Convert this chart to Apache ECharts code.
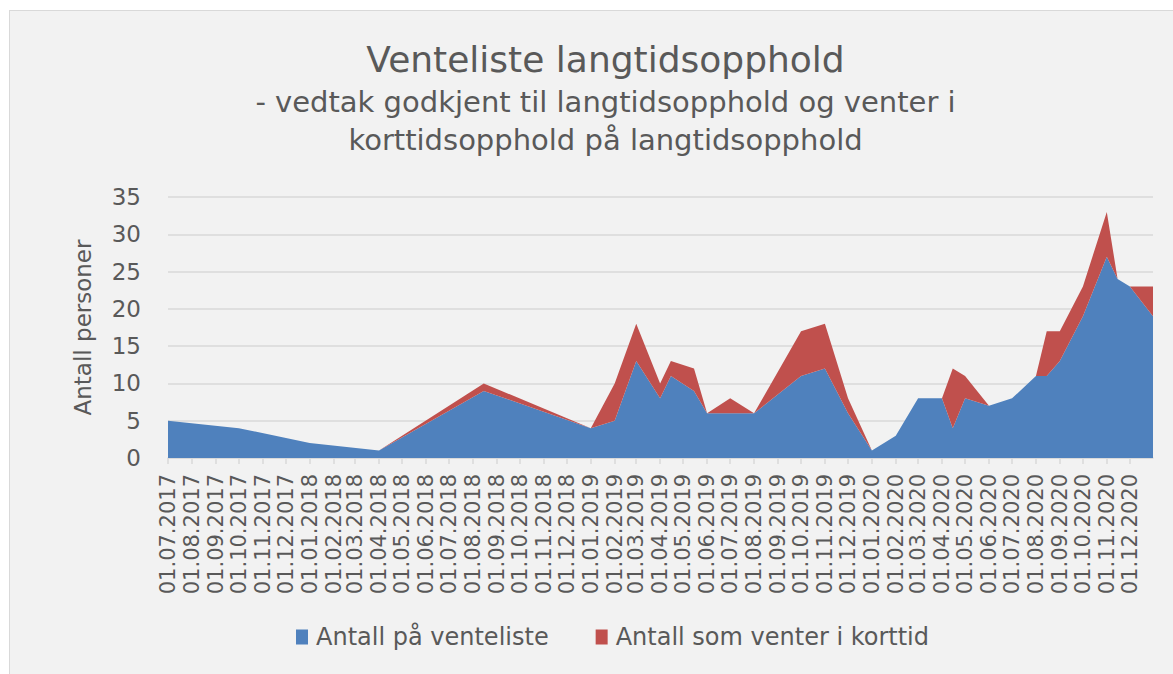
<!DOCTYPE html>
<html>
<head>
<meta charset="utf-8">
<title>Venteliste langtidsopphold</title>
<script src="https://cdn.jsdelivr.net/npm/echarts@6/dist/echarts.min.js"></script>
<style>
  html, body { margin: 0; padding: 0; background: #ffffff; overflow: hidden; }
  #main {
    position: absolute;
    left: 9px;
    top: 10px;
    width: 1192px;
    height: 664px;
    background: #f2f2f2;
    border-top: 1px solid #d9d9d9;
    border-left: 1px solid #d9d9d9;
    box-sizing: border-box;
  }
</style>
</head>
<body>
<div id="main"></div>
<script>
// datoer for registreringene (dd.mm.yyyy lest av figuren)
var datoer = [
  '01.07.2017', '01.10.2017', '01.01.2018', '01.04.2018', '15.08.2018',
  '01.01.2019', '01.02.2019', '01.03.2019', '01.04.2019', '15.04.2019',
  '15.05.2019', '01.06.2019', '01.07.2019', '01.08.2019', '01.10.2019',
  '01.11.2019', '01.12.2019', '01.01.2020', '01.02.2020', '01.03.2020',
  '01.04.2020', '15.04.2020', '01.05.2020', '01.06.2020', '01.07.2020',
  '01.08.2020', '15.08.2020', '01.09.2020', '01.10.2020', '01.11.2020',
  '15.11.2020', '01.12.2020', '31.12.2020'
]
var venteliste = [
  5, 4, 2, 1, 9,
  4, 5, 13, 8, 11,
  9, 6, 6, 6, 11,
  12, 6, 1, 3, 8,
  8, 4, 8, 7, 8,
  11, 11, 13, 19, 27,
  24, 23, 19
]
var korttid = [
  0, 0, 0, 0, 1,
  0, 5, 5, 2, 2,
  3, 0, 2, 0, 6,
  6, 2, 0, 0, 0,
  0, 8, 3, 0, 0,
  0, 6, 4, 4, 6,
  0, 0, 4
]
var serieNavn = ['Antall på venteliste', 'Antall som venter i korttid']
var yTicks = [0, 35, 5] // min, max, steg

// daglig kategoriakse fra første til siste dato
function tilDato(s) {
  var p = s.split('.')
  return new Date(Date.UTC(+p[2], +p[1] - 1, +p[0]))
}
function tilTekst(d) {
  var dd = ('0' + d.getUTCDate()).slice(-2)
  var mm = ('0' + (d.getUTCMonth() + 1)).slice(-2)
  return dd + '.' + mm + '.' + d.getUTCFullYear()
}
var dager = []
var start = tilDato(datoer[0])
var slutt = tilDato(datoer[datoer.length - 1])
for (var t = start.getTime(); t <= slutt.getTime(); t += 86400000) {
  dager.push(tilTekst(new Date(t)))
}
function forsteIMnd(index, value) {
  return value.slice(0, 2) === '01'
}

var font = 'DejaVu Sans'
var grey = '#595959'

var chart = echarts.init(document.getElementById('main'), null, { renderer: 'svg' })
var option = {
  animation: false,
  textStyle: { fontFamily: font, color: grey },
  title: [
    {
      text: 'Venteliste langtidsopphold',
      left: 'center',
      top: 28,
      padding: 0,
      textStyle: { fontSize: 36, lineHeight: 40, fontWeight: 'normal', color: grey, fontFamily: font }
    },
    {
      text: '- vedtak godkjent til langtidsopphold og venter i',
      left: 'center',
      top: 72,
      padding: 0,
      textStyle: { fontSize: 29, lineHeight: 38, fontWeight: 'normal', color: grey, fontFamily: font }
    },
    {
      text: 'korttidsopphold på langtidsopphold',
      left: 'center',
      top: 110,
      padding: 0,
      textStyle: { fontSize: 29, lineHeight: 38, fontWeight: 'normal', color: grey, fontFamily: font }
    }
  ],
  legend: {
    data: serieNavn,
    left: 286,
    top: 614,
    padding: 0,
    icon: 'rect',
    itemWidth: 12,
    itemHeight: 15,
    itemGap: 47,
    textStyle: { fontSize: 24, color: grey, fontFamily: font, padding: [0, 0, 0, 3] }
  },
  grid: {
    left: 158,
    right: 48,
    top: 186,
    bottom: 216
  },
  xAxis: {
    type: 'category',
    data: dager,
    boundaryGap: false,
    axisLine: { lineStyle: { color: '#d9d9d9', width: 1.5 } },
    axisTick: {
      show: true,
      interval: forsteIMnd,
      length: 6,
      lineStyle: { color: '#d9d9d9', width: 1.5 }
    },
    axisLabel: {
      interval: forsteIMnd,
      rotate: 90,
      margin: 16,
      fontSize: 21,
      color: grey,
      fontFamily: font
    },
    splitLine: { show: false }
  },
  yAxis: {
    type: 'value',
    name: 'Antall personer',
    nameLocation: 'middle',
    nameRotate: 90,
    nameGap: 74,
    nameTextStyle: { fontSize: 23, color: grey, fontFamily: font },
    min: yTicks[0],
    max: yTicks[1],
    interval: yTicks[2],
    axisLine: { show: false },
    axisTick: { show: false },
    axisLabel: { fontSize: 23, margin: 27, color: grey, fontFamily: font },
    splitLine: { lineStyle: { color: '#d9d9d9', width: 1.5 } }
  },
  series: [
    {
      name: serieNavn[0],
      type: 'line',
      stack: 'totalt',
      symbol: 'none',
      itemStyle: { color: '#4f81bd' },
      lineStyle: { width: 0, opacity: 0 },
      areaStyle: { color: '#4f81bd', opacity: 1 },
      emphasis: { disabled: true },
      data: datoer.map(function(d, i) { return [d, venteliste[i]] })
    },
    {
      name: serieNavn[1],
      type: 'line',
      stack: 'totalt',
      symbol: 'none',
      itemStyle: { color: '#c0504d' },
      lineStyle: { width: 0, opacity: 0 },
      areaStyle: { color: '#c0504d', opacity: 1 },
      emphasis: { disabled: true },
      data: datoer.map(function(d, i) { return [d, korttid[i]] })
    }
  ]
}
chart.setOption(option)
</script>
</body>
</html>
